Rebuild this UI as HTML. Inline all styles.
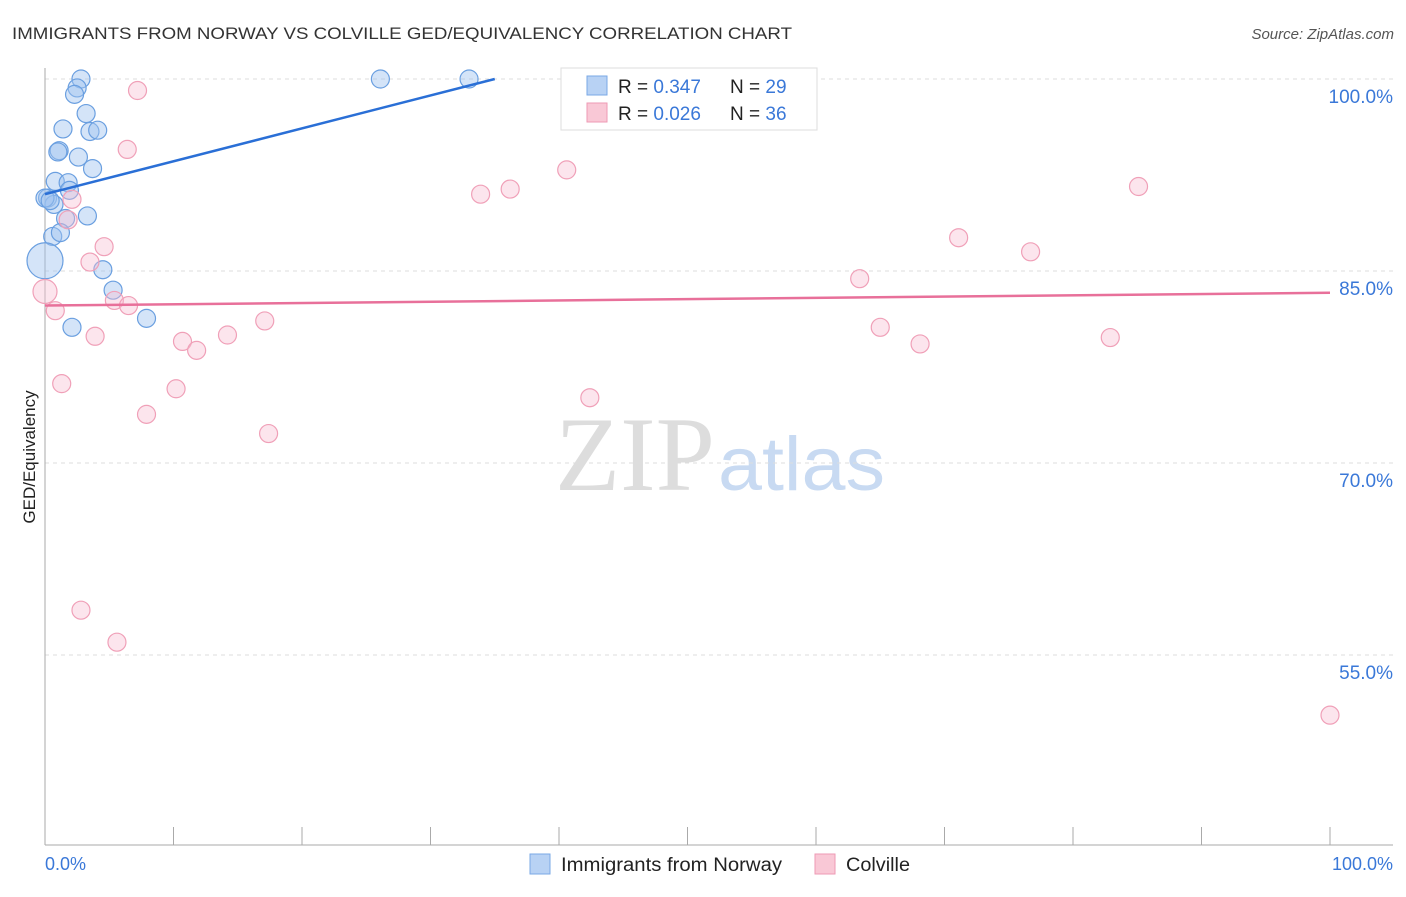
<!DOCTYPE html>
<html><head><meta charset="utf-8"><style>
body{margin:0;background:#fff;font-family:"Liberation Sans",sans-serif}
</style></head><body>
<svg width="1406" height="892" xmlns="http://www.w3.org/2000/svg" font-family="Liberation Sans, sans-serif">
<text x="12" y="39" font-size="17" fill="#333" textLength="780" lengthAdjust="spacingAndGlyphs">IMMIGRANTS FROM NORWAY VS COLVILLE GED/EQUIVALENCY CORRELATION CHART</text>
<text x="1394" y="39" font-size="15" fill="#555" font-style="italic" text-anchor="end">Source: ZipAtlas.com</text>
<text x="555" y="490" font-size="106" fill="#ddd" textLength="160" lengthAdjust="spacingAndGlyphs" font-family="Liberation Serif, serif">ZIP</text>
<text x="718" y="490" font-size="76" fill="#c8daf2" textLength="167" lengthAdjust="spacingAndGlyphs">atlas</text>
<g id="grid"></g>
<line x1="45" y1="68" x2="45" y2="845" stroke="#aaa"/>
<line x1="45" y1="845" x2="1393" y2="845" stroke="#aaa"/>
<g id="xt"></g>
<text x="35" y="457" font-size="17" fill="#222" transform="rotate(-90 35 457)" text-anchor="middle">GED/Equivalency</text>
<text x="45" y="870" font-size="18" fill="#3a78d8">0.0%</text>
<text x="1393" y="870" font-size="18" fill="#3a78d8" text-anchor="end">100.0%</text>
<g id="pts"></g>
<g id="trend"></g>
<g>
<rect x="561" y="68" width="256" height="62" fill="#fff" stroke="#ddd"/>
<rect x="587" y="76" width="20" height="19" fill="#b8d2f4" stroke="#7aa8e6"/>
<text x="618" y="93" font-size="19" fill="#222">R = <tspan fill="#3a78d8">0.347</tspan><tspan x="730">N = </tspan><tspan fill="#3a78d8">29</tspan></text>
<rect x="587" y="103" width="20" height="19" fill="#f9c8d6" stroke="#ee9ab4"/>
<text x="618" y="120" font-size="19" fill="#222">R = <tspan fill="#3a78d8">0.026</tspan><tspan x="730">N = </tspan><tspan fill="#3a78d8">36</tspan></text>
</g>
<g>
<rect x="530" y="854" width="20" height="20" fill="#b8d2f4" stroke="#7aa8e6"/>
<text x="561" y="871" font-size="19" fill="#222" textLength="221" lengthAdjust="spacingAndGlyphs">Immigrants from Norway</text>
<rect x="815" y="854" width="20" height="20" fill="#f9c8d6" stroke="#ee9ab4"/>
<text x="846" y="871" font-size="19" fill="#222" textLength="64" lengthAdjust="spacingAndGlyphs">Colville</text>
</g>
</svg>
<script>
const yTicks=[100,85,70,55];
const xTickVals=[0,10,20,30,40,50,60,70,80,90,100];
const blueX=[2.8,2.5,2.3,3.2,1.4,3.5,4.1,1.1,1.0,2.6,3.7,0.8,1.8,1.9,0.2,0.7,0,1.6,3.3,0.6,1.2,0,4.5,5.3,7.9,2.1,26.1,33.0,0.4];
const blueY=[100,99.3,98.8,97.3,96.1,95.9,96.0,94.4,94.3,93.9,93.0,92.0,91.9,91.3,90.7,90.2,90.7,89.1,89.3,87.7,88.0,85.8,85.1,83.5,81.3,80.6,100,100,90.5];
const blueR=[9,9,9,9,9,9,9,9,9,9,9,9,9,9,9,9,9,9,9,9,9,18,9,9,9,9,9,9,9];
const pinkX=[7.2,53.5,6.4,2.1,1.8,4.6,3.5,0,5.4,6.5,0.8,3.9,10.7,11.8,14.2,17.1,1.3,10.2,7.9,17.4,2.8,5.6,33.9,36.2,40.6,46.1,48.2,71.1,76.7,63.4,65.0,68.1,82.9,85.1,42.4,100];
const pinkY=[99.1,100,94.5,90.6,89.0,86.9,85.7,83.4,82.7,82.3,81.9,79.9,79.5,78.8,80.0,81.1,76.2,75.8,73.8,72.3,58.5,56.0,91.0,91.4,92.9,97.3,97.0,87.6,86.5,84.4,80.6,79.3,79.8,91.6,75.1,50.3];
const blueTrend=[[0,91.0],[35,100]];
const pinkTrend=[[0,82.3],[100,83.3]];
const X=v=>45+v*12.85, Y=v=>79+(100-v)*12.8;
const NS="http://www.w3.org/2000/svg";
function mk(t,a,p){const e=document.createElementNS(NS,t);for(const k in a)e.setAttribute(k,a[k]);document.getElementById(p).appendChild(e);return e;}
yTicks.forEach(t=>{
 const l=mk('line',{x1:45,x2:1393,y1:Y(t),y2:Y(t),stroke:'#ddd','stroke-dasharray':'4,4'},'grid');
 
 
 const s=mk('text',{x:1393,y:Y(t)+24,'font-size':19,fill:'#3a78d8','text-anchor':'end'},'grid');
 s.textContent=t.toFixed(1)+'%';
 
 
});
xTickVals.forEach(t=>{
 const l=mk('line',{x1:X(t),x2:X(t),y1:827,y2:845,stroke:'#aaa'},'xt');
 
 
});
blueX.forEach((x,i)=>{
 const c=mk('circle',{cx:X(x),cy:Y(blueY[i]),r:blueR[i],fill:'rgba(160,195,240,0.45)',stroke:'#6a9fe0','stroke-width':1.2},'pts');
 
 
});
pinkX.forEach((x,i)=>{
 const c=mk('circle',{cx:X(x),cy:Y(pinkY[i]),r:(i==7?12:9),fill:'rgba(248,190,210,0.4)',stroke:'#f0a0b8','stroke-width':1.2},'pts');
 
 
});
const bt=mk('line',{x1:X(blueTrend[0][0]),y1:Y(blueTrend[0][1]),x2:X(blueTrend[1][0]),y2:Y(blueTrend[1][1]),stroke:'#2a6fd6','stroke-width':2.5},'trend');


const pt=mk('line',{x1:X(pinkTrend[0][0]),y1:Y(pinkTrend[0][1]),x2:X(pinkTrend[1][0]),y2:Y(pinkTrend[1][1]),stroke:'#e8709a','stroke-width':2.5},'trend');


</script>
</body></html>
